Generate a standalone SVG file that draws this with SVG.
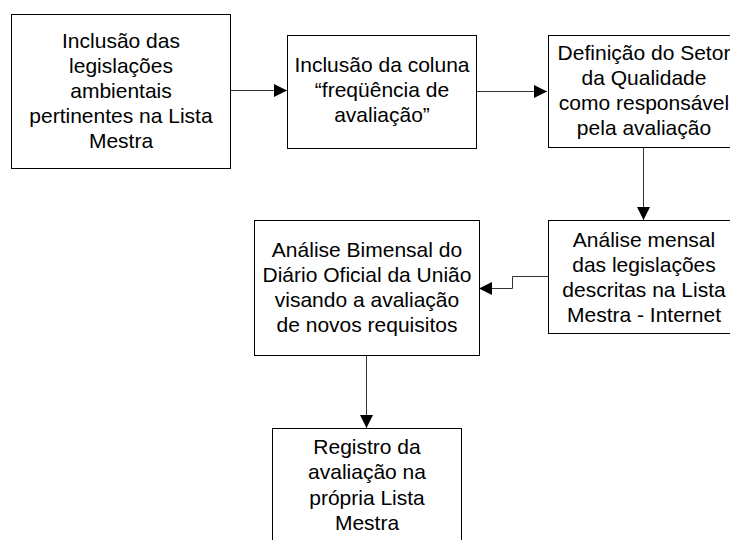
<svg xmlns="http://www.w3.org/2000/svg" width="730" height="540" viewBox="0 0 730 540">
<style>
.box{fill:#fff;stroke:#000;stroke-width:1}
.t{font-family:"Liberation Sans",Arial,sans-serif;font-size:21px;fill:#000;text-anchor:middle}
.c{fill:none;stroke:#333;stroke-width:1}
</style>
<defs>
<marker id="ah" markerWidth="14" markerHeight="14" refX="13" refY="6.5" orient="auto" markerUnits="userSpaceOnUse">
<path d="M0,0 L13,6.5 L0,13 Z" fill="#000"/>
</marker>
</defs>
<rect width="730" height="540" fill="#fff"/>
<g id="connectors">
<line class="c" x1="230.5" y1="90.5" x2="287" y2="90.5" marker-end="url(#ah)"/>
<line class="c" x1="477" y1="91.5" x2="547" y2="91.5" marker-end="url(#ah)"/>
<line class="c" x1="643.5" y1="148" x2="643.5" y2="220" marker-end="url(#ah)"/>
<polyline class="c" points="548,276.5 512.5,276.5 512.5,288.5 479,288.5" marker-end="url(#ah)"/>
<line class="c" x1="366.5" y1="356" x2="366.5" y2="428" marker-end="url(#ah)"/>
</g>
<g id="n1">
<rect class="box" x="11.5" y="14.5" width="219" height="154"/>
<text class="t"><tspan x="121" y="48">Inclusão das</tspan><tspan x="121" y="73">legislações</tspan><tspan x="121" y="98">ambientais</tspan><tspan x="121" y="123">pertinentes na Lista</tspan><tspan x="121" y="148">Mestra</tspan></text>
</g>
<g id="n2">
<rect class="box" x="287.5" y="35.5" width="189" height="113"/>
<text class="t"><tspan x="382" y="72">Inclusão da coluna</tspan><tspan x="382" y="97">“freqüência de</tspan><tspan x="382" y="122">avaliação”</tspan></text>
</g>
<g id="n3">
<rect class="box" x="548.5" y="35.5" width="191" height="112"/>
<text class="t"><tspan x="644" y="60">Definição do Setor</tspan><tspan x="644" y="85">da Qualidade</tspan><tspan x="644" y="110">como responsável</tspan><tspan x="644" y="135">pela avaliação</tspan></text>
</g>
<g id="n4">
<rect class="box" x="548.5" y="220.5" width="191" height="113"/>
<text class="t"><tspan x="644" y="247">Análise mensal</tspan><tspan x="644" y="272">das legislações</tspan><tspan x="644" y="297">descritas na Lista</tspan><tspan x="644" y="322">Mestra - Internet</tspan></text>
</g>
<g id="n5">
<rect class="box" x="254.5" y="220.5" width="225" height="135"/>
<text class="t"><tspan x="367" y="257">Análise Bimensal do</tspan><tspan x="367" y="282">Diário Oficial da União</tspan><tspan x="367" y="307">visando a avaliação</tspan><tspan x="367" y="332">de novos requisitos</tspan></text>
</g>
<g id="n6">
<rect class="box" x="272.5" y="428.5" width="189" height="130"/>
<text class="t"><tspan x="367" y="454">Registro da</tspan><tspan x="367" y="479">avaliação na</tspan><tspan x="367" y="505">própria Lista</tspan><tspan x="367" y="530">Mestra</tspan></text>
</g>
</svg>
